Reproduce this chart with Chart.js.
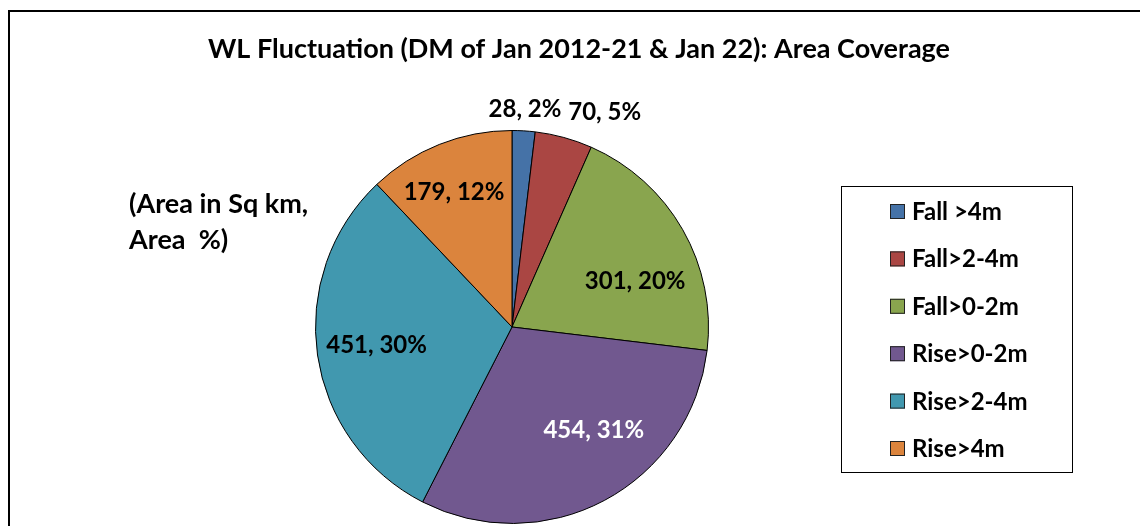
<!DOCTYPE html>
<html lang="en">
<head>
  <meta charset="UTF-8" />
  <title>WL Fluctuation: Area Coverage</title>
  <style>
    html, body {
      margin: 0;
      padding: 0;
      background: #fff;
    }
    canvas {
      display: block;
    }
  </style>
</head>
<body>
  <canvas id="graficoPastel" width="1140" height="526"></canvas>

  <script src="https://cdn.jsdelivr.net/npm/chart.js"></script>
  <script>
    const titulo = "WL Fluctuation (DM of Jan 2012-21 & Jan 22): Area Coverage";
    const nota = ["(Area in Sq km,", "Area  %)"];
    const categorias = ["Fall >4m", "Fall>2-4m", "Fall>0-2m", "Rise>0-2m", "Rise>2-4m", "Rise>4m"];
    const areas = [28, 70, 301, 454, 451, 179];
    const porcentajes = [2, 5, 20, 31, 30, 12];
    const colores = ["#4572A7", "#AA4643", "#89A54E", "#71588F", "#4198AF", "#DB843D"];
    const coloresTexto = ["#000", "#000", "#000", "#fff", "#000", "#000"];

    // where each value label sits: fraction of the radius and a turn (degrees) off the slice middle
    const posEtiquetas = [
      { r: 1.114, giro: 0 },
      { r: 1.193, giro: 8 },
      { r: 0.67, giro: 9 },
      { r: 0.668, giro: -10.5 },
      { r: 0.695, giro: 0.7 },
      { r: 0.751, giro: -1.4 }
    ];

    const FUENTE = "Lato, 'Open Sans', sans-serif";

    const extras = {
      id: "extras",
      afterDraw(chart) {
        const ctx = chart.ctx;
        const arcos = chart.getDatasetMeta(0).data;
        ctx.save();

        // outer frame
        ctx.strokeStyle = "#000";
        ctx.lineWidth = 2;
        ctx.strokeRect(9, 11, 1140, 530);

        // title
        ctx.fillStyle = "#000";
        ctx.font = "bold 27px " + FUENTE;
        ctx.textAlign = "center";
        ctx.textBaseline = "alphabetic";
        ctx.fillText(titulo, 579, 58);

        // side note
        ctx.textAlign = "left";
        ctx.fillText(nota[0], 129, 213);
        ctx.fillText(nota[1], 129, 249);

        // value labels
        ctx.font = "bold 24px " + FUENTE;
        ctx.textAlign = "center";
        arcos.forEach((arco, i) => {
          const p = arco.getProps(["x", "y", "startAngle", "endAngle", "outerRadius"], true);
          const ang = (p.startAngle + p.endAngle) / 2 + posEtiquetas[i].giro * Math.PI / 180;
          const rad = p.outerRadius * posEtiquetas[i].r;
          const x = p.x + Math.cos(ang) * rad;
          const y = p.y + Math.sin(ang) * rad;
          ctx.fillStyle = coloresTexto[i];
          ctx.fillText(areas[i] + ", " + porcentajes[i] + "%", x, y + 8.5);
        });

        // legend box
        ctx.strokeStyle = "#000";
        ctx.lineWidth = 1;
        ctx.strokeRect(841.5, 186.5, 231, 286);
        ctx.textAlign = "left";
        categorias.forEach((cat, i) => {
          const cy = 211.5 + i * 47.4;
          ctx.fillStyle = colores[i];
          ctx.fillRect(890, cy - 7.5, 15, 15);
          ctx.strokeStyle = "#222";
          ctx.strokeRect(890.5, cy - 7, 14, 14);
          ctx.fillStyle = "#000";
          ctx.fillText(cat, 912, cy + 8.5);
        });

        ctx.restore();
      }
    };

    new Chart(document.getElementById("graficoPastel"), {
      type: "pie",
      data: {
        labels: categorias,
        datasets: [{
          data: areas,
          backgroundColor: colores,
          borderColor: "#000",
          borderWidth: 1,
          hoverOffset: 0
        }]
      },
      options: {
        responsive: false,
        devicePixelRatio: 1,
        animation: false,
        events: [],
        layout: {
          padding: { left: 315, right: 431, top: 130, bottom: 2 }
        },
        plugins: {
          legend: { display: false },
          title: { display: false },
          tooltip: { enabled: false }
        }
      },
      plugins: [extras]
    });
  </script>
</body>
</html>
